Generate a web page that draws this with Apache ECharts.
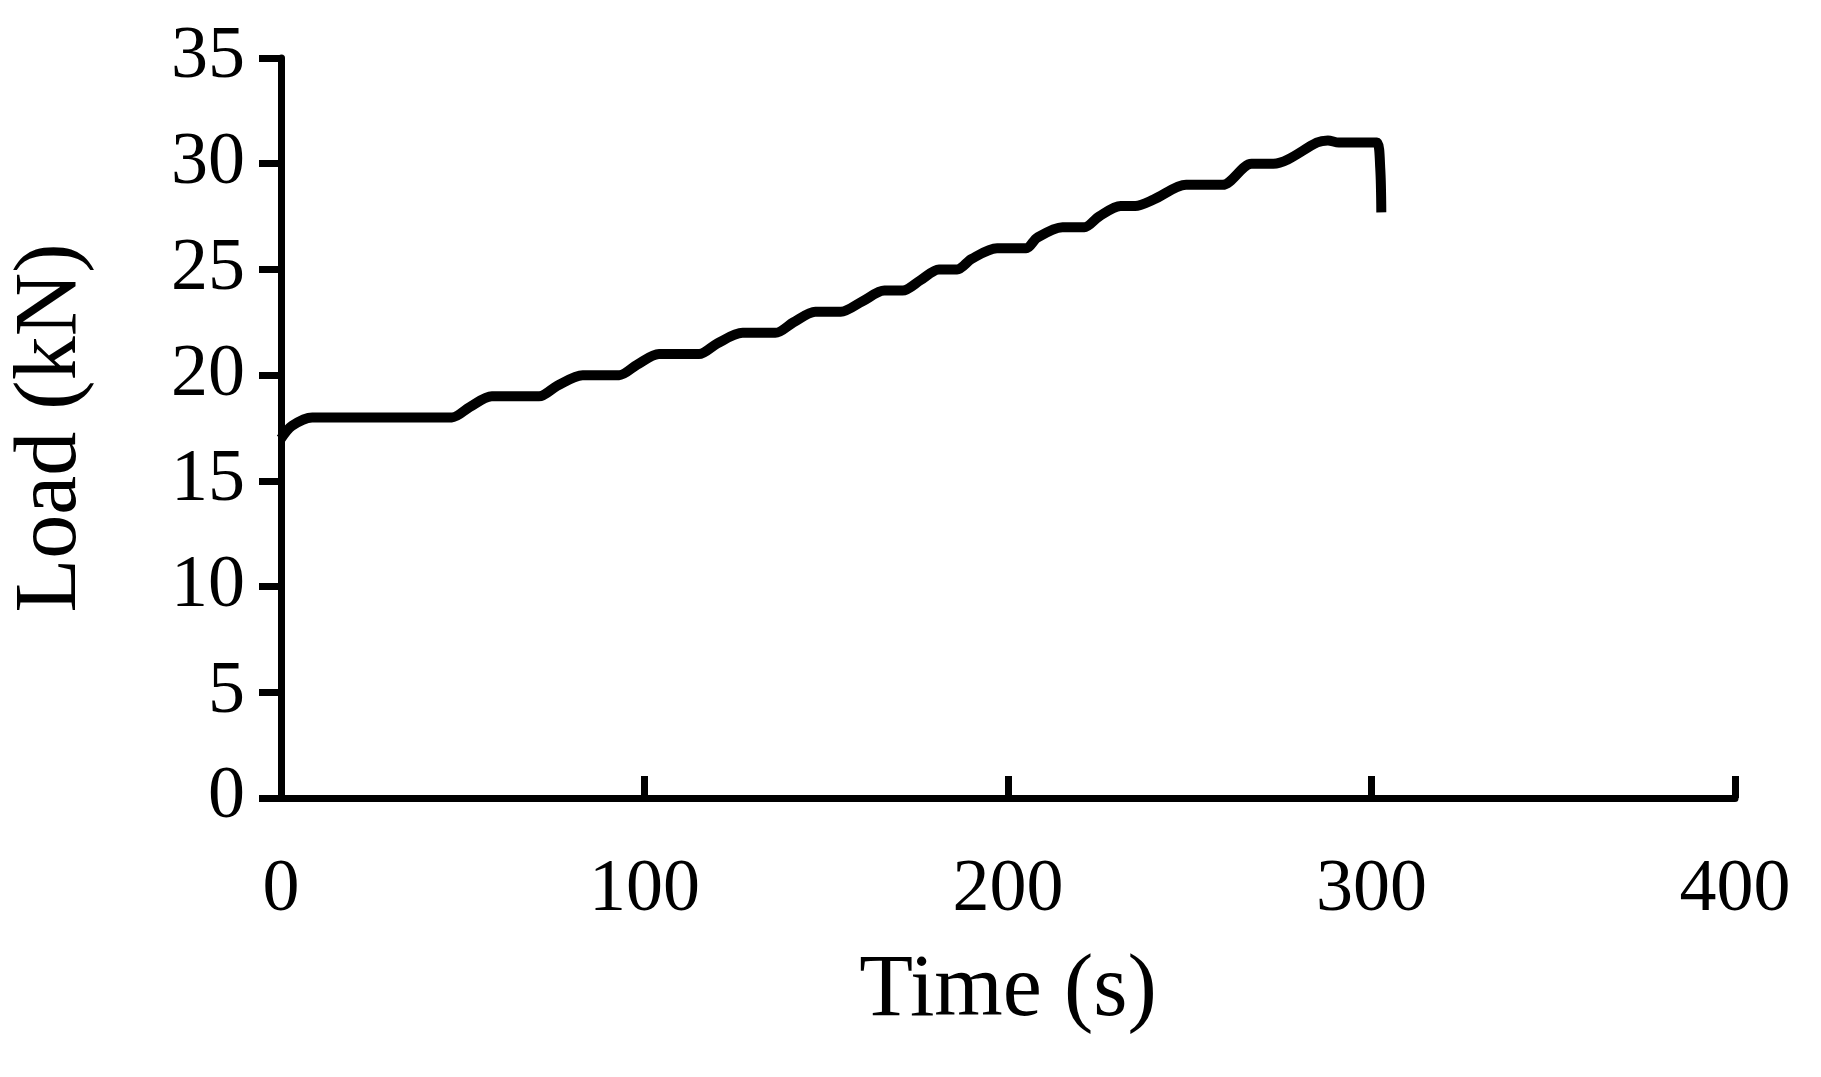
<!DOCTYPE html>
<html>
<head>
<meta charset="utf-8">
<script src="https://cdn.jsdelivr.net/npm/echarts@6/dist/echarts.min.js"></script>
<style>html,body{margin:0;padding:0;background:#fff}#chart{width:1821px;height:1077px}</style>
</head>
<body>
<div id="chart"></div>
<script>
// time (s) and load (kN)
var timeS = [0, 3, 8.6, 20, 35, 47, 52, 58, 71, 76, 83, 93, 98, 104, 115, 120, 127, 136, 141, 147, 154, 160, 166, 171, 176, 181, 186, 190, 197, 205, 208, 215, 221, 225, 231, 235, 240, 249, 253, 259, 267, 273, 277, 285, 288, 291, 299, 301.5, 302.4, 302.7];
var loadKN = [17, 17.6, 18, 18, 18, 18, 18.5, 19, 19, 19.5, 20, 20, 20.5, 21, 21, 21.5, 22, 22, 22.5, 23, 23, 23.5, 24, 24, 24.5, 25, 25, 25.5, 26, 26, 26.5, 27, 27, 27.5, 28, 28, 28.3, 29, 29, 29, 30, 30, 30.2, 31, 31.1, 31, 31, 31, 29.8, 27.7];

var points = timeS.map(function (t, i) { return [t, loadKN[i]]; });
var font = 'Liberation Serif';

var chart = echarts.init(document.getElementById('chart'));
chart.setOption({
  animation: false,
  grid: { left: 277, right: 86, top: 58, bottom: 279 },
  xAxis: {
    type: 'value', min: 0, max: 400, interval: 100,
    name: 'Time (s)', nameLocation: 'middle', nameGap: 150,
    nameTextStyle: { fontFamily: font, fontSize: 88, color: '#000' },
    axisLine: { lineStyle: { color: '#000', width: 7 } },
    axisTick: { inside: true, length: 22, lineStyle: { color: '#000', width: 7 } },
    axisLabel: { fontFamily: font, fontSize: 74, color: '#000', margin: 56 },
    splitLine: { show: false }
  },
  yAxis: {
    type: 'value', min: 0, max: 35, interval: 5,
    name: 'Load (kN)', nameLocation: 'middle', nameGap: 185,
    nameTextStyle: { fontFamily: font, fontSize: 88, color: '#000' },
    axisLine: { show: true, lineStyle: { color: '#000', width: 7 } },
    axisTick: { show: true, inside: false, length: 22, lineStyle: { color: '#000', width: 7 } },
    axisLabel: { fontFamily: font, fontSize: 74, color: '#000', margin: 36 },
    splitLine: { show: false }
  },
  series: [{
    type: 'line', data: points, showSymbol: false, smooth: 0.3,
    lineStyle: { color: '#000', width: 10 }
  }]
});
</script>
</body>
</html>
